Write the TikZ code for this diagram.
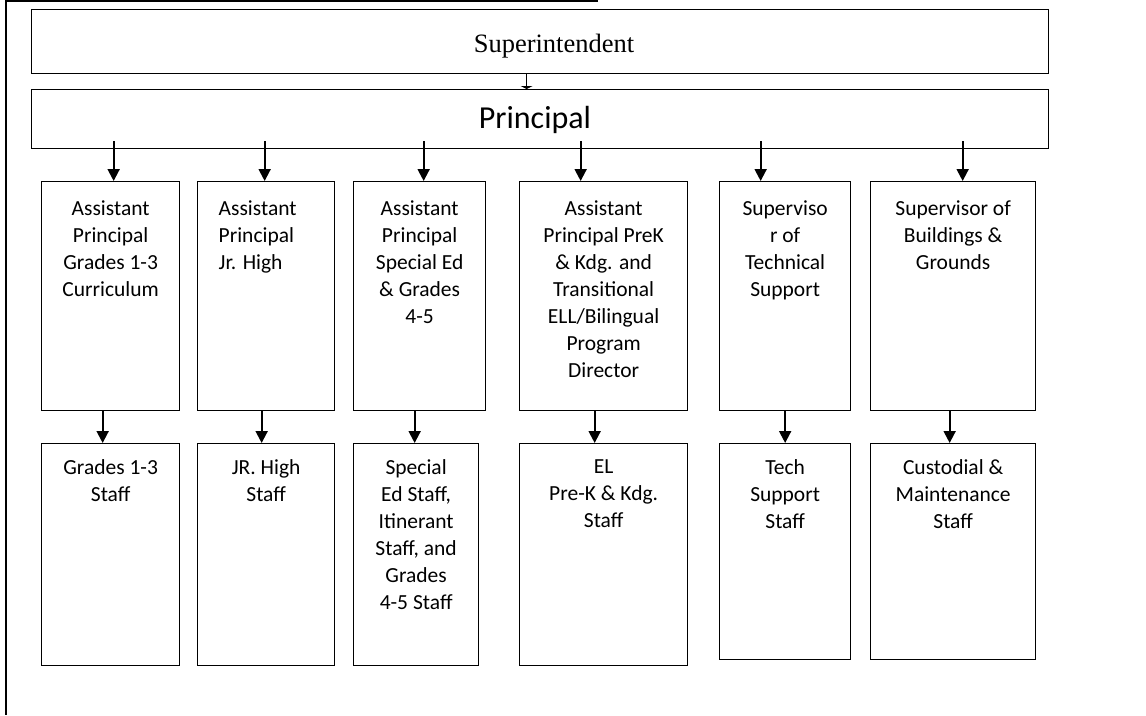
\documentclass[tikz,border=0pt]{standalone}
\usepackage{fontspec}
\setmainfont{Carlito}
\newfontfamily\timesfont{Liberation Serif}
\usetikzlibrary{calc,arrows.meta}

\tikzset{
  box/.style={draw, line width=1.3pt, anchor=north west, inner sep=0pt},
  txt/.style={align=center, inner sep=0pt, anchor=north, font=\fontsize{21.5}{27}\selectfont},
  arr/.style={line width=2pt, -{Triangle[width=12pt,length=12pt]}},
}

\begin{document}
\begin{tikzpicture}[x=1pt,y=-1pt]
\useasboundingbox (0,0) rectangle (1146,715);
% frame
\draw[line width=2pt] (6,0) -- (6,715);
\draw[line width=1.5pt] (6,1) -- (598,1);
% top
\node[box, minimum width=1017, minimum height=64] (su) at (31,9) {};
\node[font=\timesfont\fontsize{26.5}{30}\selectfont, anchor=base, inner sep=0pt] (sut) at (554,52) {Superintendent};
\node[box, minimum width=1017, minimum height=59] (pr) at (31,89) {};
\node[font=\fontsize{32}{36}\selectfont, anchor=base, inner sep=0pt] (prt) at (535,128) {Principal};
\draw[line width=1.3pt, -{Triangle[width=12pt,length=3pt]}] ($(su.south)+(-13.5,0)$) -- ($(pr.north)+(-13.5,0)$);
% assistant principals and supervisors
\node[box, minimum width=138, minimum height=229] (a1) at (41,181) {};
\node[box, minimum width=137, minimum height=229] (a2) at (197,181) {};
\node[box, minimum width=132, minimum height=229] (a3) at (353,181) {};
\node[box, minimum width=168, minimum height=229] (a4) at (519,181) {};
\node[box, minimum width=131, minimum height=229] (a5) at (719,181) {};
\node[box, minimum width=165, minimum height=229] (a6) at (870,181) {};
\node[txt] (a1t) at ($(a1.north)+(0,19.5)$) {Assistant\\Principal\\Grades 1-3\\Curriculum};
\node[txt, align=left, anchor=north west] (a2t) at ($(a2.north west)+(21.5,19.5)$) {Assistant\\Principal\\Jr. High};
\node[txt] (a3t) at ($(a3.north)+(0,19.5)$) {Assistant\\Principal\\Special Ed\\\& Grades\\4-5};
\node[txt] (a4t) at ($(a4.north)+(0,19.5)$) {Assistant\\Principal PreK\\\& Kdg. and\\Transitional\\ELL/Bilingual\\Program\\Director};
\node[txt] (a5t) at ($(a5.north)+(0,19.5)$) {Superviso\\r of\\Technical\\Support};
\node[txt] (a6t) at ($(a6.north)+(0,19.5)$) {Supervisor of\\Buildings \&\\Grounds};
% staff
\node[box, minimum width=138, minimum height=222] (b1) at (41,443) {};
\node[box, minimum width=137, minimum height=222] (b2) at (197,443) {};
\node[box, minimum width=125, minimum height=222] (b3) at (353,443) {};
\node[box, minimum width=168, minimum height=222] (b4) at (519,443) {};
\node[box, minimum width=131, minimum height=216] (b5) at (719,443) {};
\node[box, minimum width=165, minimum height=216] (b6) at (870,443) {};
\node[txt] (b1t) at ($(b1.north)+(0,16.5)$) {Grades 1-3\\Staff};
\node[txt] (b2t) at ($(b2.north)+(0,16.5)$) {JR. High\\Staff};
\node[txt] (b3t) at ($(b3.north)+(0,16.5)$) {Special\\Ed Staff,\\Itinerant\\Staff, and\\Grades\\4-5 Staff};
\node[txt] (b4t) at ($(b4.north)+(0,16.5)$) {EL\\Pre-K \& Kdg.\\Staff};
\node[txt] (b5t) at ($(b5.north)+(0,16.5)$) {Tech\\Support\\Staff};
\node[txt] (b6t) at ($(b6.north)+(0,16.5)$) {Custodial \&\\Maintenance\\Staff};
% arrows principal -> row 1
\draw[arr] ($(pr.south -| a1.north)+(3,-8)$) -- ($(a1.north)+(3,0)$);
\draw[arr] ($(pr.south -| a2.north)+(-1.5,-8)$) -- ($(a2.north)+(-1.5,0)$);
\draw[arr] ($(pr.south -| a3.north)+(4,-8)$) -- ($(a3.north)+(4,0)$);
\draw[arr] ($(pr.south -| a4.north)+(-23,-8)$) -- ($(a4.north)+(-23,0)$);
\draw[arr] ($(pr.south -| a5.north)+(-24.5,-8)$) -- ($(a5.north)+(-24.5,0)$);
\draw[arr] ($(pr.south -| a6.north)+(9.5,-8)$) -- ($(a6.north)+(9.5,0)$);
% arrows row 1 -> row 2
\draw[arr] ($(a1.south -| b1.north)+(-8,0)$) -- ($(b1.north)+(-8,0)$);
\draw[arr] ($(a2.south -| b2.north)+(-4.5,0)$) -- ($(b2.north)+(-4.5,0)$);
\draw[arr] ($(a3.south -| b3.north)+(-1.5,0)$) -- ($(b3.north)+(-1.5,0)$);
\draw[arr] ($(a4.south -| b4.north)+(-9,0)$) -- ($(b4.north)+(-9,0)$);
\draw[arr] (a5.south -| b5.north) -- (b5.north);
\draw[arr] ($(a6.south -| b6.north)+(-3.5,0)$) -- ($(b6.north)+(-3.5,0)$);
\end{tikzpicture}
\end{document}
